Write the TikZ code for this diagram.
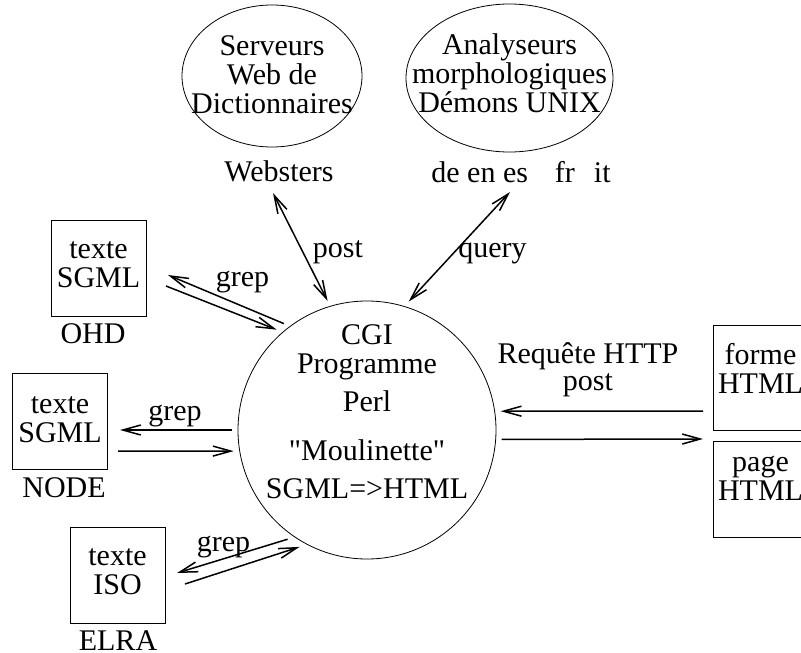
\documentclass[tikz,border=0pt]{standalone}
\usepackage{fontspec}
\setmainfont{Liberation Serif}
\usetikzlibrary{arrows.meta}
\usetikzlibrary{shapes.geometric}

\begin{document}
\begin{tikzpicture}[x=1pt, y=-1pt,
    every node/.style={font=\fontsize{30}{29}\selectfont},
    doc/.style={draw, line width=0.9pt, inner sep=0pt, align=center,
      minimum width=95pt, minimum height=96pt, text height=45pt, text depth=7pt},
    server/.style={ellipse, draw, line width=0.8pt, inner sep=-30pt, align=center,
      text depth=6pt},
    flow/.style={line width=1.5pt, -{Straight Barb[length=18pt, width=10pt]}},
    both/.style={line width=1.5pt,
      {Straight Barb[length=18pt, width=10pt]}-{Straight Barb[length=18pt, width=10pt]}}]
  \useasboundingbox (0,0) rectangle (801,653);
  \clip (0,0) rectangle (801,653);

  % serveurs en haut
  \node[server, minimum width=180pt, minimum height=142pt, text height=80pt] (dico) at (272,76) {Serveurs\\Web de\\Dictionnaires};
  \node[server, minimum width=207pt, minimum height=148pt, text height=74pt] (morpho) at (509.5,78) {Analyseurs\\morphologiques\\Démons UNIX};
  \node[anchor=base] (websters) at (279,181) {Websters};
  \node[anchor=base] (langs) at (521,182) {de en es\hspace{27pt}fr\hspace{19pt}it};

  % programme CGI
  \node[circle, draw, line width=0.8pt, minimum size=258pt, inner sep=0pt, outer sep=6pt] (prog) at (367,430) {};
  \node[anchor=base, align=center] (progtxt) at (367,498) {CGI\\Programme\\[9pt]Perl\\[20pt]\textquotedbl Moulinette\textquotedbl\\[9pt]SGML=>HTML};

  % textes
  \node[doc] (ohd) at (98.5,268) {texte\\SGML};
  \node[doc, text height=48pt, text depth=6pt] (nodedoc) at (60,421) {texte\\SGML};
  \node[doc] (elra) at (117.5,575) {texte\\ISO};
  \node[anchor=base] (ohdname) at (93,343) {OHD};
  \node[anchor=base] (nodename) at (64,497) {NODE};
  \node[anchor=base] (elraname) at (118,650) {ELRA};

  % pages HTML
  \node[doc, minimum height=105pt, text height=40pt, text depth=9pt] (forme) at (760.5,377.5) {forme\\HTML};
  \node[doc, text height=32pt, text depth=10pt] (page) at (760.5,489) {page\\HTML};

  \coordinate (ohdin) at (168,275);
  \coordinate (ohdout) at (166,286);
  \coordinate (nodein) at (120,430);
  \coordinate (nodeout) at (118,451);
  \coordinate (elrain) at (177,573);
  \coordinate (elraout) at (185,584);
  \coordinate (webend) at (273,193);
  \coordinate (langend) at (510,192);
  \coordinate (formeout) at (703,411);
  \coordinate (pagein) at (703,439);

  \draw[flow] (prog.128) -- (ohdin);
  \draw[flow] (ohdout) -- (prog.132);
  \draw[flow] (prog.180) -- (nodein);
  \draw[flow] (nodeout) -- (prog.189);
  \draw[flow] (prog.234) -- (elrain);
  \draw[flow] (elraout) -- (prog.240);
  \draw[both] (webend) -- (prog.107);
  \draw[both] (langend) -- (prog.72);
  \draw[flow] (formeout) -- (prog.8);
  \draw[flow] (prog.356) -- (pagein);

  \node[anchor=base] (postweb) at (338,257) {post};
  \node[anchor=base] (query) at (492.5,257) {query};
  \node[anchor=base] (grepohd) at (242.5,286) {grep};
  \node[anchor=base] (grepnode) at (175,420) {grep};
  \node[anchor=base] (grepelra) at (223.5,551) {grep};
  \node[anchor=base, align=center] (http) at (588,390) {Requête HTTP\\[-2pt]post};
\end{tikzpicture}
\end{document}
